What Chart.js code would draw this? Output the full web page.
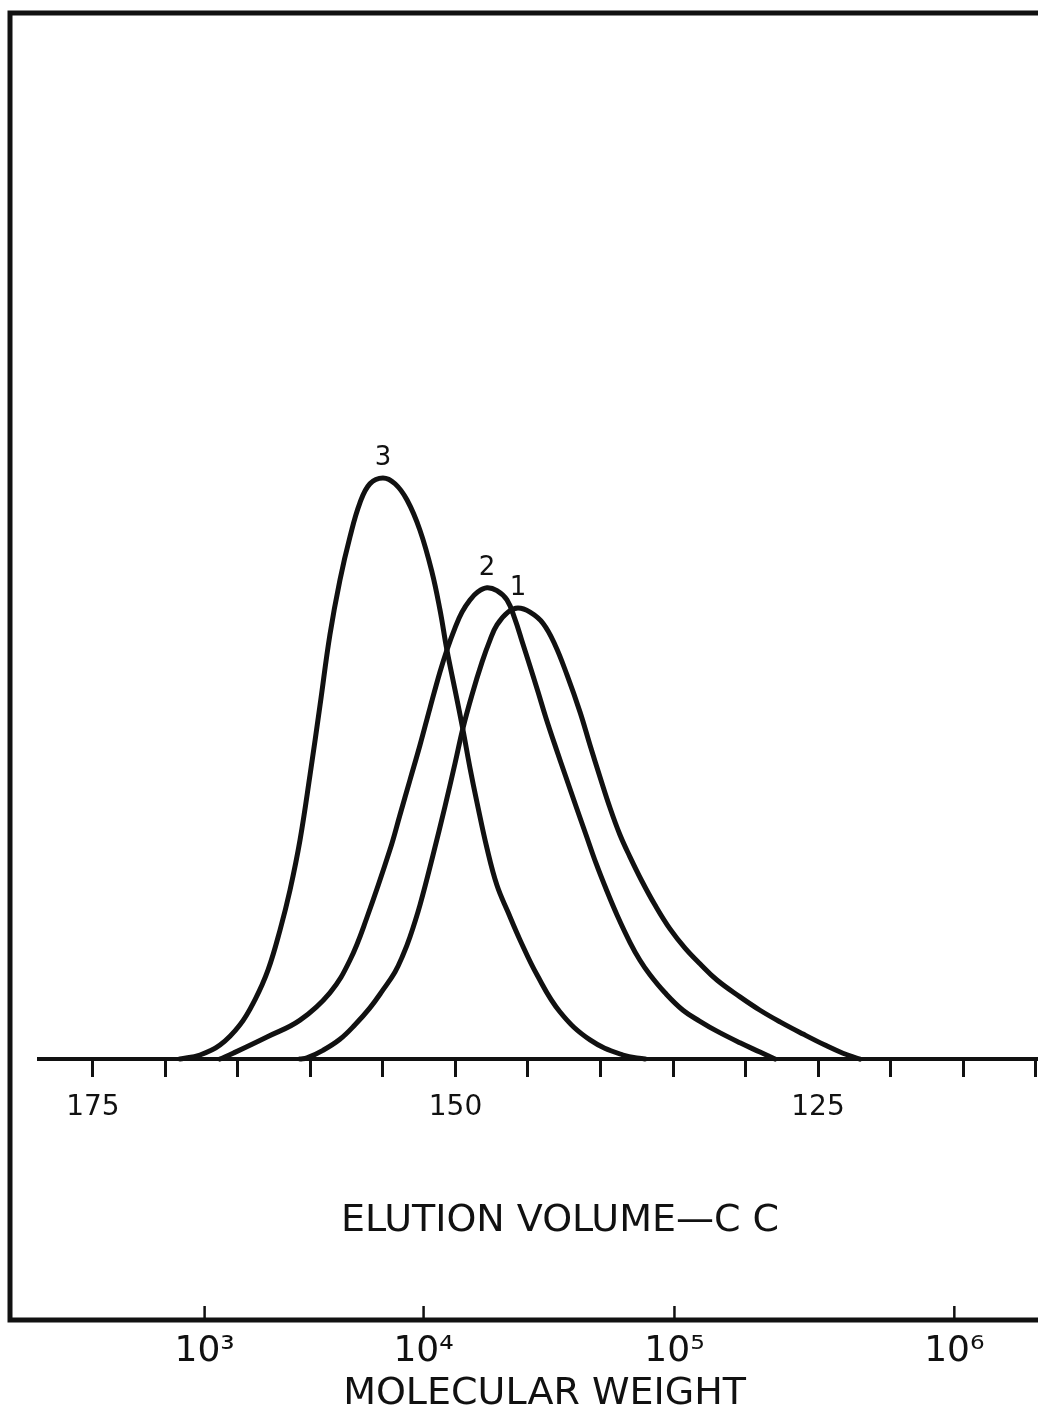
<!DOCTYPE html>
<html>
<head>
<meta charset="utf-8">
<script src="https://cdn.jsdelivr.net/npm/chart.js@4.4.1/dist/chart.umd.min.js"></script>
<style>
html,body{margin:0;padding:0;background:#fff;}
#wrap{width:1038px;height:1415px;position:relative;}
</style>
</head>
<body>
<div id="wrap"><canvas id="c" width="1038" height="1415"></canvas></div>
<script>
// ---- data ----
const elutionTicks = [175,170,165,160,155,150,145,140,135,130,125,120,115,110];
const elutionLabels = [175,150,125];
const elutionTitle = 'ELUTION VOLUME—C C';
const mwTickVolumes = [167.3,152.2,134.9,115.6];
const mwTickLabels = ['10³','10⁴','10⁵','10⁶'];
const mwTitle = 'MOLECULAR WEIGHT';
const curveNames = ['1','2','3'];

const curve1Volume = [160.72,160.24,159.14,157.97,156.93,155.90,155.00,154.17,153.62,153.14,152.45,151.55,150.72,150.03,149.48,148.86,148.17,147.62,147.14,146.38,145.69,144.86,143.97,143.14,142.31,141.41,140.72,140.03,139.34,138.66,137.97,137.14,136.24,135.21,134.17,133.14,131.97,130.38,129.00,127.62,126.03,124.52,123.28,122.10];
const curve1Height = [0,0.2,1.5,3.4,5.9,8.8,11.9,15.0,17.9,21.0,26.5,35.1,43.5,50.9,57.0,62.7,68.3,72.1,74.7,76.9,77.6,76.9,75.0,71.3,66.1,59.7,54.0,48.5,43.2,38.6,34.8,30.6,26.5,22.4,19.1,16.4,13.6,10.7,8.4,6.4,4.3,2.4,1.0,0];

const curve2Volume = [166.24,165.34,163.00,160.72,158.66,157.28,156.10,154.52,153.83,153.14,152.45,151.76,151.07,150.59,150.03,149.55,149.00,148.45,147.83,147.14,146.45,145.90,145.41,144.86,144.31,143.76,143.07,142.38,141.69,141.00,140.31,139.62,138.86,137.97,137.28,136.59,135.55,134.31,133.14,131.97,130.38,129.00,127.97];
const curve2Height = [0,1.0,3.8,6.7,11.4,17.0,24.4,36.0,42.0,48.0,54.0,60.4,66.6,70.4,74.2,76.9,79.0,80.4,81.1,80.6,79.0,75.7,71.9,67.6,63.2,58.7,53.5,48.5,43.5,38.6,33.7,29.3,24.8,20.1,17.0,14.5,11.4,8.4,6.5,4.8,2.8,1.2,0];

const curve3Volume = [169.00,167.62,166.24,164.86,163.83,162.93,162.10,161.41,160.72,160.03,159.34,158.66,157.97,157.28,156.59,155.90,155.00,154.17,153.34,152.45,151.62,151.07,150.59,150.03,149.48,149.00,148.52,147.83,147.14,146.38,145.55,144.38,142.79,140.72,138.45,136.93];
const curve3Height = [0,0.7,2.4,5.9,10.2,15.3,22.2,29.1,37.7,48.9,60.9,73.0,82.4,89.8,95.7,99.0,100,99.0,96.2,91.0,83.8,77.3,70.4,63.5,56.6,50.1,44.2,36.3,29.9,25.3,20.5,14.5,8.1,3.3,0.7,0];

const curveVolumes = [curve1Volume, curve2Volume, curve3Volume];
const curveHeights = [curve1Height, curve2Height, curve3Height];

// ---- chart ----
const FONT = "'DejaVu Sans', sans-serif";
Chart.defaults.font.family = FONT;
Chart.defaults.color = '#111';
const INK = '#111';

const framePlugin = {
  id: 'frame',
  beforeDatasetsDraw(chart) {
    const {ctx, chartArea: a} = chart;
    ctx.save();
    ctx.strokeStyle = INK;
    ctx.lineWidth = 5;
    ctx.lineCap = 'square';
    ctx.beginPath();
    ctx.moveTo(chart.width + 5, a.top);
    ctx.lineTo(a.left, a.top);
    ctx.lineTo(a.left, a.bottom);
    ctx.lineTo(chart.width + 5, a.bottom);
    ctx.stroke();
    // elution-volume base line (starts a little inside the frame)
    const y0 = chart.scales.y.getPixelForValue(0);
    ctx.lineWidth = 4;
    ctx.lineCap = 'butt';
    ctx.beginPath();
    ctx.moveTo(a.left + 27, y0);
    ctx.lineTo(a.right, y0);
    ctx.stroke();
    // upward tick marks of the molecular-weight axis
    const mw = chart.scales.xMW;
    ctx.lineWidth = 2.5;
    mw.ticks.forEach(t => {
      const px = mw.getPixelForValue(t.value);
      ctx.beginPath();
      ctx.moveTo(px, a.bottom);
      ctx.lineTo(px, a.bottom - 14);
      ctx.stroke();
    });
    ctx.restore();
  }
};

const captionPlugin = {
  id: 'captions',
  afterDraw(chart) {
    const {ctx, chartArea: a} = chart;
    const y0 = chart.scales.y.getPixelForValue(0);
    ctx.save();
    ctx.fillStyle = INK;
    ctx.textAlign = 'center';
    ctx.textBaseline = 'middle';
    ctx.font = "38px " + FONT;
    ctx.fillText(elutionTitle, a.left + (a.right - a.left) * 0.535, y0 + 162);
    ctx.fillText(mwTitle, a.left + (a.right - a.left) * 0.520, a.bottom + 74);
    ctx.restore();
  }
};

const peakLabelPlugin = {
  id: 'peakLabels',
  afterDatasetsDraw(chart) {
    const {ctx} = chart;
    ctx.save();
    ctx.fillStyle = INK;
    ctx.font = "26px " + FONT;
    ctx.textAlign = 'center';
    ctx.textBaseline = 'bottom';
    chart.data.datasets.forEach((ds, i) => {
      const meta = chart.getDatasetMeta(i);
      let top = null;
      meta.data.forEach(el => { if (!top || el.y < top.y) top = el; });
      if (top) ctx.fillText(ds.label, top.x, top.y - 7);
    });
    ctx.restore();
  }
};

const datasets = curveNames.map((name, i) => ({
  label: name,
  data: curveVolumes[i].map((v, j) => ({x: v, y: curveHeights[i][j]})),
  borderColor: INK,
  borderWidth: 5,
  borderJoinStyle: 'round',
  borderCapStyle: 'round',
  pointRadius: 0,
  fill: false,
  tension: 0.4,
  xAxisID: 'x',
  yAxisID: 'y'
}));

const noSidePadding = s => { s.paddingLeft = 0; s.paddingRight = 0; };

new Chart(document.getElementById('c'), {
  type: 'line',
  data: { datasets },
  options: {
    responsive: false,
    animation: false,
    devicePixelRatio: 1,
    layout: { padding: { left: 10, top: 13, right: 0, bottom: 31 } },
    plugins: { legend: { display: false }, tooltip: { enabled: false } },
    scales: {
      x: {
        type: 'linear',
        position: { y: 0 },
        reverse: true,
        min: 109.83,
        max: 180.72,
        afterBuildTicks: s => { s.ticks = elutionTicks.map(v => ({ value: v })); },
        afterFit: noSidePadding,
        ticks: {
          autoSkip: false,
          maxRotation: 0,
          padding: 14,
          font: { size: 28 },
          color: INK,
          callback: v => elutionLabels.includes(v) ? String(v) : ''
        },
        grid: { drawOnChartArea: false, drawTicks: true, tickLength: 18, lineWidth: 3, color: INK },
        border: { display: false },
        title: { display: false }
      },
      xMW: {
        type: 'linear',
        position: 'bottom',
        reverse: true,
        min: 109.83,
        max: 180.72,
        afterBuildTicks: s => { s.ticks = mwTickVolumes.map(v => ({ value: v })); },
        afterFit: noSidePadding,
        ticks: {
          autoSkip: false,
          maxRotation: 0,
          padding: 14,
          font: { size: 36, lineHeight: 1 },
          color: INK,
          callback: v => mwTickLabels[mwTickVolumes.indexOf(v)]
        },
        grid: { display: false, drawTicks: false },
        border: { display: false },
        title: { display: false }
      },
      y: {
        type: 'linear',
        display: false,
        min: -44.9,
        max: 180.0
      }
    }
  },
  plugins: [framePlugin, peakLabelPlugin, captionPlugin]
});
</script>
</body>
</html>
